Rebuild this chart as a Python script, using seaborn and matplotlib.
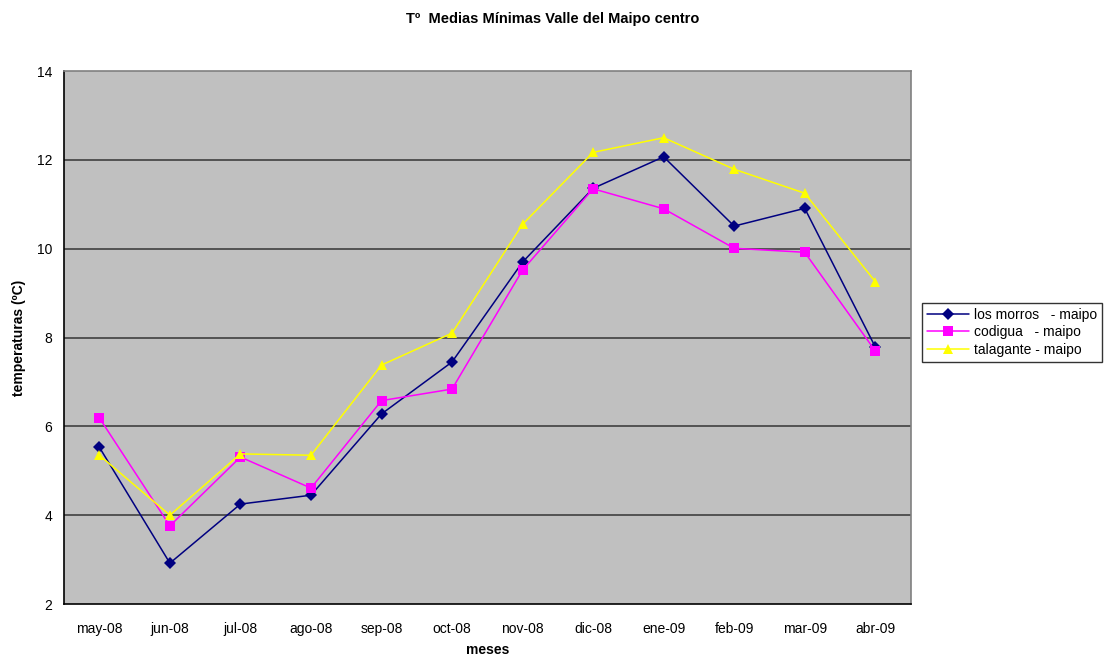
import pandas as pd
import numpy as np
import matplotlib
matplotlib.use('Agg')
import matplotlib.pyplot as plt
import seaborn as sns

meses = ['may-08', 'jun-08', 'jul-08', 'ago-08', 'sep-08', 'oct-08',
         'nov-08', 'dic-08', 'ene-09', 'feb-09', 'mar-09', 'abr-09']
los_morros = [5.53, 2.92, 4.25, 4.45, 6.28, 7.45, 9.70, 11.36, 12.07, 10.51, 10.91, 7.79]
codigua = [6.19, 3.76, 5.31, 4.61, 6.58, 6.84, 9.52, 11.35, 10.90, 10.01, 9.92, 7.70]
talagante = [5.35, 4.00, 5.38, 5.35, 7.38, 8.10, 10.55, 12.17, 12.50, 11.79, 11.25, 9.26]

series_names = ['los morros   - maipo', 'codigua   - maipo', 'talagante - maipo']
colors = ['#000080', '#FF00FF', '#FFFF00']
markers = ['D', 's', '^']

df = pd.DataFrame({'mes': meses * 3,
                   'x': list(range(len(meses))) * 3,
                   'temp': los_morros + codigua + talagante,
                   'serie': np.repeat(series_names, len(meses))})

sns.set_style('white')
plt.rcParams['font.family'] = ['Liberation Sans', 'DejaVu Sans']
plt.rcParams['text.color'] = 'black'
plt.rcParams['axes.labelcolor'] = 'black'
plt.rcParams['xtick.color'] = 'black'
plt.rcParams['ytick.color'] = 'black'

fig = plt.figure(figsize=(11.05, 6.62), dpi=100)
ax = fig.add_axes([0.058, 0.0876, 0.766, 0.805])
ax.set_facecolor('#C0C0C0')

sns.lineplot(data=df, x='x', y='temp', hue='serie', style='serie',
             hue_order=series_names, style_order=series_names,
             palette=colors, markers=markers, dashes=False,
             markersize=7, markeredgewidth=0, linewidth=1.1, ax=ax)
# diamonds a bit smaller than squares/triangles, like the original
ax.lines[0].set_markersize(6)

ax.set_xlim(-0.5, len(meses) - 0.5)
ax.set_ylim(2, 14)
ax.set_yticks([2, 4, 6, 8, 10, 12, 14])
for v in [4, 6, 8, 10, 12]:
    ax.axhline(v, color='#404040', linewidth=1.2, zorder=0.5)

ax.set_xticks(range(len(meses)))
ax.set_xticklabels(meses)
ax.set_xticks(np.arange(-0.5, len(meses), 1), minor=True)
ax.tick_params(axis='x', which='major', length=0, labelsize=10, pad=13)
ax.tick_params(axis='x', which='minor', length=5, width=1, color='black', direction='out')
ax.tick_params(axis='y', which='major', length=5, width=1, color='black', direction='out', labelsize=10)

for side, sp in ax.spines.items():
    sp.set_color('#808080')
    sp.set_linewidth(1.2)
ax.spines['left'].set_color('black')
ax.spines['bottom'].set_color('black')

ax.set_xlabel('meses', fontsize=10, fontweight='bold', labelpad=5)
ax.set_ylabel('temperaturas (ºC)', fontsize=10, fontweight='bold', labelpad=8)
fig.suptitle('Tº  Medias Mínimas Valle del Maipo centro', fontsize=10.5,
             fontweight='bold', y=0.982)

leg = ax.legend(loc='upper left', bbox_to_anchor=(1.014, 0.565), frameon=True,
                fancybox=False, fontsize=10, borderpad=0.35, labelspacing=0.25,
                handlelength=3, handletextpad=0.4, borderaxespad=0)
leg.get_frame().set_edgecolor('black')
leg.get_frame().set_linewidth(1)
ax.get_legend().legend_handles[0].set_markersize(6)

fig.savefig('out.png', dpi=100)
